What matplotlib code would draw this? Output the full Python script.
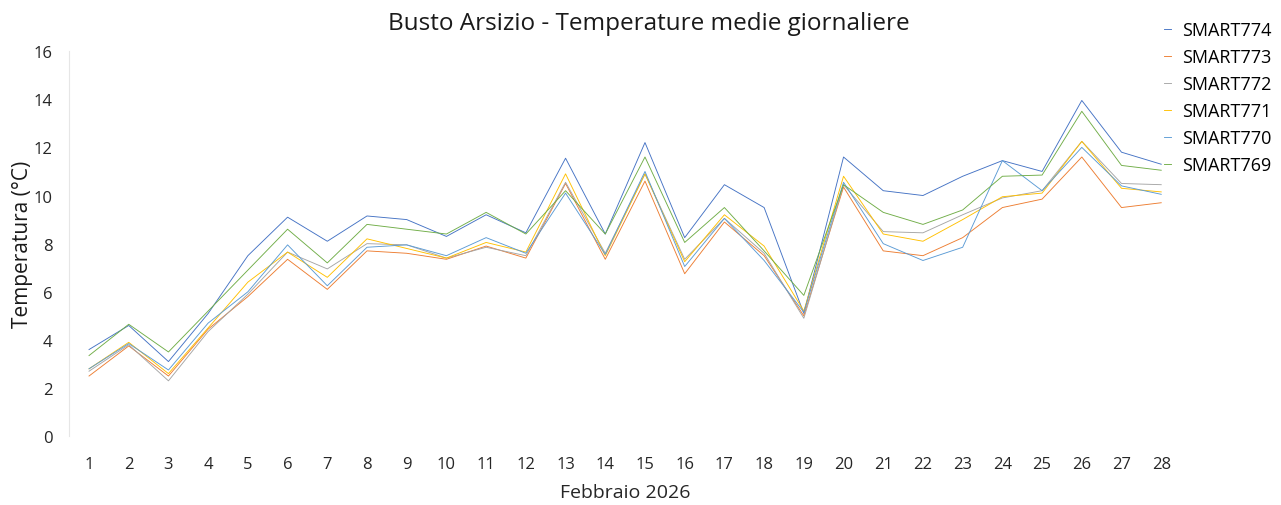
import numpy as np
import matplotlib
matplotlib.use("Agg")
import matplotlib.pyplot as plt

# daily mean temperatures, February 2026
days = list(range(1, 29))

smart774 = [3.6, 4.6, 3.1, 5.1, 7.5, 9.1, 8.1, 9.15, 9.0, 8.3, 9.2, 8.45, 11.55, 8.4,
            12.2, 8.25, 10.45, 9.5, 5.1, 11.6, 10.2, 10.0, 10.8, 11.45, 11.0, 13.95, 11.8, 11.3]
smart773 = [2.5, 3.75, 2.5, 4.45, 5.8, 7.35, 6.1, 7.7, 7.6, 7.35, 7.9, 7.4, 10.5, 7.35,
            10.6, 6.75, 8.9, 7.5, 5.0, 10.35, 7.7, 7.5, 8.25, 9.5, 9.85, 11.6, 9.5, 9.7]
smart772 = [2.7, 3.8, 2.3, 4.35, 5.9, 7.65, 6.95, 8.0, 7.95, 7.4, 7.85, 7.5, 10.55, 7.6,
            10.9, 7.35, 9.05, 7.6, 4.9, 10.45, 8.5, 8.45, 9.2, 9.9, 10.2, 12.25, 10.5, 10.45]
smart771 = [2.8, 3.9, 2.6, 4.5, 6.4, 7.65, 6.6, 8.2, 7.8, 7.4, 8.05, 7.65, 10.9, 7.5,
            10.9, 7.25, 9.2, 7.9, 5.2, 10.8, 8.4, 8.1, 9.0, 9.95, 10.1, 12.25, 10.3, 10.15]
smart770 = [2.8, 3.85, 2.75, 4.7, 6.0, 7.95, 6.25, 7.85, 7.95, 7.5, 8.25, 7.6, 10.1, 7.55,
            11.0, 7.05, 9.05, 7.3, 5.15, 10.55, 8.0, 7.3, 7.85, 11.45, 10.2, 12.0, 10.4, 10.05]
smart769 = [3.35, 4.65, 3.5, 5.2, 6.9, 8.6, 7.2, 8.8, 8.6, 8.4, 9.3, 8.4, 10.2, 8.4,
            11.6, 8.05, 9.5, 7.7, 5.85, 10.45, 9.3, 8.8, 9.4, 10.8, 10.85, 13.5, 11.25, 11.05]

labels = ['SMART774', 'SMART773', 'SMART772', 'SMART771', 'SMART770', 'SMART769']
series = [smart774, smart773, smart772, smart771, smart770, smart769]
colors = ['#4472C4', '#ED7D31', '#A5A5A5', '#FFC000', '#5B9BD5', '#70AD47']

plt.rcParams['font.family'] = ['Open Sans', 'DejaVu Sans']

fig = plt.figure(figsize=(12.81, 5.06), dpi=100)
ax = fig.add_axes([0.054, 0.136, 0.868, 0.761])

for vals, lab, col in zip(series, labels, colors):
    ax.plot(days, vals, color=col, lw=0.65, label=lab)

ax.set_xlim(0.5, 28.5)
ax.set_ylim(0, 16)
ax.set_xticks(days)
ax.set_yticks(np.arange(0, 17, 2))
ax.tick_params(axis='both', length=0, labelsize=12, colors='#262626')
ax.tick_params(axis='x', pad=14)
ax.tick_params(axis='y', pad=12)
for s in ['top', 'right', 'bottom']:
    ax.spines[s].set_visible(False)
ax.spines['left'].set_color('#E6E6E6')
ax.spines['left'].set_linewidth(0.8)

ax.set_title('Busto Arsizio - Temperature medie giornaliere', fontsize=17.5, pad=16,
             color='#1a1a1a', x=0.521)
ax.set_ylabel('Temperatura (°C)', fontsize=15, labelpad=0.5, color='#1a1a1a')
ax.set_xlabel('Febbraio 2026', fontsize=14, labelpad=8, color='#262626')

fig.legend(loc='upper left', bbox_to_anchor=(0.9, 0.978), frameon=False,
           handlelength=0.4, handletextpad=0.6, labelspacing=0.5, fontsize=13,
           borderaxespad=0.2)

fig.savefig('out.png', dpi=100)
